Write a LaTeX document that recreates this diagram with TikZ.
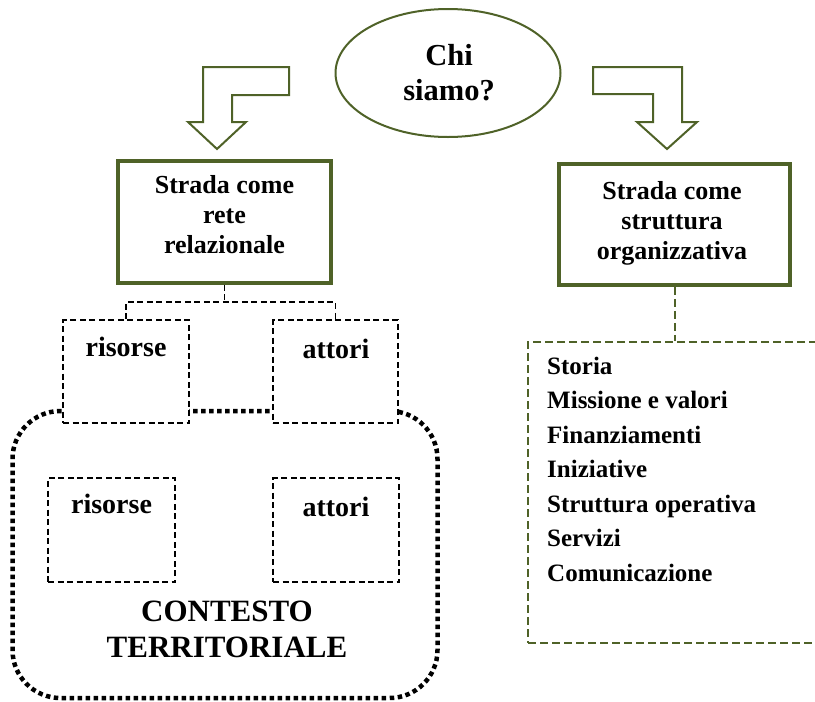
\documentclass[tikz,border=0pt]{standalone}
\usepackage{fontspec}
\setmainfont{Liberation Serif}
\usetikzlibrary{shapes.geometric}
\definecolor{darkolive}{HTML}{4F6228}
\begin{document}
\begin{tikzpicture}[x=1pt,y=-1pt,
  greenbox/.style={draw=darkolive, line width=3.5pt, inner sep=0pt},
  bendarrow/.style={draw=darkolive, line width=2pt, fill=white, line join=miter},
  dashbox/.style={draw, dash pattern=on 6pt off 3.5pt, line width=1.8pt, fill=white, inner sep=0pt},
  dashline/.style={dash pattern=on 6pt off 3.5pt, line width=1.8pt},
  gdash/.style={draw=darkolive, dash pattern=on 8pt off 4pt, line width=2pt},
  dotline/.style={draw, line width=4.5pt, dash pattern=on 4.5pt off 3.5pt},
  boxtext/.style={inner sep=0pt, align=center, font=\bfseries\fontsize{26}{30}\selectfont},
  smalltext/.style={inner sep=0pt, anchor=base, font=\bfseries\fontsize{28}{32}\selectfont},
]
\useasboundingbox (0,0) rectangle (815,702);
\clip (0,0) rectangle (815,702);

% central question
\node[ellipse, draw=darkolive, line width=2pt, minimum width=225pt, minimum height=128pt, inner sep=0pt] (who) at (448,73) {};
\node[inner sep=0pt, align=center, font=\bfseries\fontsize{30.5}{35}\selectfont] (whotxt) at (449,73.1) {Chi\\siamo?};

% bent arrows
\draw[bendarrow] (203,67) -- (289,67) -- (289,95) -- (232,95) -- (232,122) -- (246,122)
  -- (217,149) -- (188,122) -- (203,122) -- cycle;
\draw[bendarrow] (593,67) -- (682,67) -- (682,122) -- (697,122) -- (667,149)
  -- (637,122) -- (653,122) -- (653,94) -- (593,94) -- cycle;

% the two readings
\node[greenbox, minimum width=213pt, minimum height=122pt] (net) at (224.5,222) {};
\node[boxtext] (nettxt) at (224.5,215.1) {Strada come\\rete\\relazionale};
\node[greenbox, minimum width=231pt, minimum height=121pt] (org) at (674.5,224.5) {};
\node[boxtext] (orgtxt) at (672,222.9) {Strada come\\struttura\\organizzativa};

% territorial context
\node[dotline, rounded corners=48pt, minimum width=425pt, minimum height=287pt, inner sep=0pt] (ctx) at (225,554.5) {};

\node[dashbox, minimum width=126pt, minimum height=103pt] (res1) at (126,371.5) {};
\node[dashbox, minimum width=125pt, minimum height=103pt] (att1) at (335.5,371.5) {};
\node[smalltext] (res1txt) at (126,356) {risorse};
\node[smalltext] (att1txt) at (336,358) {attori};

\node[dashbox, minimum width=127pt, minimum height=104pt] (res2) at (111.5,530) {};
\node[dashbox, minimum width=126pt, minimum height=104pt] (att2) at (336,530) {};
\node[smalltext] (res2txt) at (111.5,513) {risorse};
\node[smalltext] (att2txt) at (336,516.5) {attori};

\node[inner sep=0pt, align=center, font=\bfseries\fontsize{31}{36}\selectfont] (ctxtxt) at (227,629.75) {CONTESTO\\TERRITORIALE};

% links from the network box
\coordinate (jn) at (224.5,302);
\draw[dashline] (net.south) -- (jn);
\draw[dashline] (res1.north) |- (jn) -| (att1.north);

% organisational topics
\node[gdash, minimum width=300pt, minimum height=301pt, inner sep=0pt, anchor=north west] (lst) at (527,341) {};
\draw[gdash] (org.south) -- (org.south |- lst.north);
\node[inner sep=0pt, anchor=west, align=left, font=\bfseries\fontsize{25}{34.5}\selectfont] (lsttxt) at (547,469.25)
  {Storia\\Missione e valori\\Finanziamenti\\Iniziative\\Struttura operativa\\Servizi\\Comunicazione};
\end{tikzpicture}
\end{document}
